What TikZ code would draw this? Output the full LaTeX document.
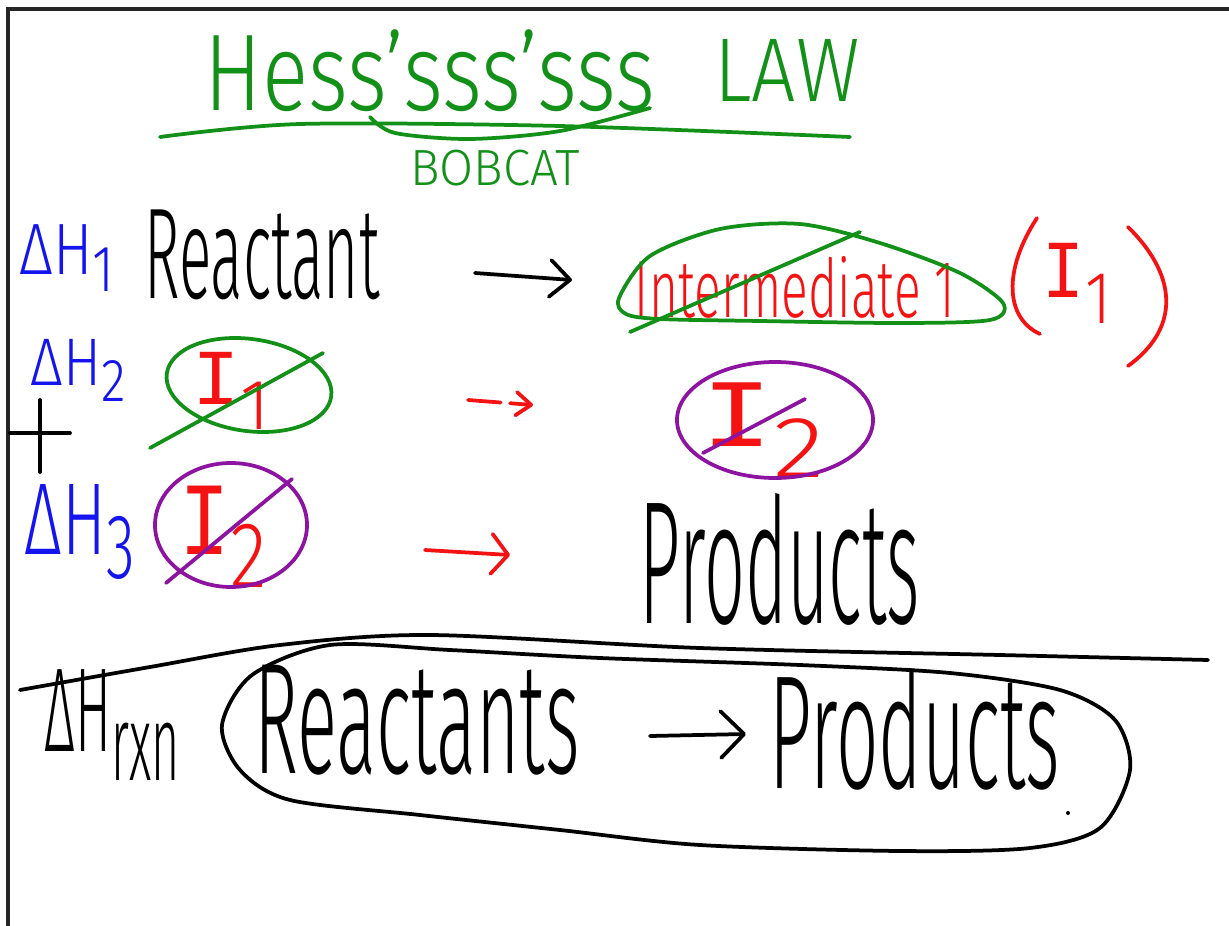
\documentclass[tikz,border=0pt]{standalone}
\usepackage{fontspec}
\IfFontExistsTF{Fira Sans Light}
  {\setmainfont{Fira Sans Light}}
  {\setmainfont{Fira Sans}}
\newfontfamily\monoI{Liberation Mono}
\usetikzlibrary{arrows.meta}
\definecolor{pengreen} {HTML}{129018}
\definecolor{penred}   {HTML}{F41212}
\definecolor{penblue}  {HTML}{1414EE}
\definecolor{penpurple}{HTML}{8C14A0}

% one pixel of the board
\newlength{\px}\setlength{\px}{0.3mm}
% text squeezed into a w x h box (in board pixels)
\newcommand{\ink}[3]{\resizebox*{#1\px}{#2\px}{#3}}
\newcommand{\enth}[1]{ΔH\raisebox{-0.45ex}{\small #1}}
\newcommand{\inter}[1]{{\monoI I}\raisebox{-0.6ex}{\small #1}}

\begin{document}
\begin{tikzpicture}[x=0.3mm,y=-0.3mm,
  pen/.style={line width=3.2pt,line cap=round,line join=round},
  txt/.style={inner sep=0pt,anchor=center},
  headtip/.style 2 args={-{Straight Barb[length=#1,width=#2,round]}}]
\useasboundingbox (0,0) rectangle (1229,926);
\fill[white] (0,0) rectangle (1229,926);
\draw[line width=3pt,black!85] (1240,9) -- (8,9) -- (8,940);

% title
\node[txt,text=pengreen] (title) at (430,71) {\ink{450}{82}{Hess'sss'sss}};
\node[txt,text=pengreen] (law) at (787,70) {\ink{145}{62}{LAW}};
\draw[pen,pengreen] plot[smooth] coordinates {(160,137) (300,124) (560,126) (850,137)};
\draw[pen,pengreen] plot[smooth] coordinates {(370,117) (395,133) (470,139) (560,131) (650,108)};
\node[txt,text=pengreen] (bobcat) at (495,168) {\ink{170}{36}{BOBCAT}};

% step 1
\node[txt,text=penblue] (dh1) at (67,258) {\ink{95}{67}{\enth{1}}};
\node[txt] (reactant) at (262,255) {\ink{235}{90}{Reactant}};
\coordinate (r1a) at (475,273);
\coordinate (r1b) at (572,280);
\draw[pen,headtip={6mm}{11mm}] (r1a) -- (r1b);
\node[txt,text=penred] (int1) at (795,287) {\ink{320}{62}{Intermediate 1}};
\draw[pen,pengreen] plot[smooth cycle] coordinates {(619,298) (650,256) (720,229) (800,224)
  (880,243) (960,273) (1003,303) (990,320) (900,323) (760,321) (660,319) (626,314)};
\draw[pen,pengreen] (630,332) -- (860,232);
\node[txt,text=penred] (i1c) at (1077,283) {\ink{68}{80}{\inter{1}}};
\draw[pen,penred] (1037,218) .. controls (1003,270) and (1005,318) .. (1040,334);
\draw[pen,penred] (1128,227) .. controls (1180,278) and (1178,330) .. (1128,366);

% step 2
\node[txt,text=penblue] (dh2) at (78,370) {\ink{95}{62}{\enth{2}}};
\draw[pen] (10,433) -- (70,433);
\draw[pen] (40,400) -- (40,472);
\node[txt,text=penred] (i1a) at (231,391) {\ink{77}{77}{\inter{1}}};
\draw[pen,pengreen,rotate around={-8:(249,385)}] (249,385) ellipse [x radius=83,y radius=46];
\draw[pen,pengreen] (150,448) -- (323,353);
\coordinate (r2a) at (468,400);
\coordinate (r2b) at (533,405);
\draw[pen,penred,dash pattern=on 28pt off 8pt,headtip={4.5mm}{7mm}] (r2a) -- (r2b);
\node[txt,text=penred] (i2a) at (763,430) {\ink{123}{94}{\inter{2}}};
\draw[pen,penpurple] (775,420) ellipse [x radius=98,y radius=58];
\draw[pen,penpurple] (703,453) -- (805,399);

% step 3
\node[txt,text=penblue] (dh3) at (80,532) {\ink{110}{95}{\enth{3}}};
\node[txt,text=penred] (i2b) at (223,537) {\ink{87}{101}{\inter{2}}};
\draw[pen,penpurple] (231,525) ellipse [x radius=76,y radius=62];
\draw[pen,penpurple] (166,583) -- (292,479);
\coordinate (r3a) at (425,550);
\coordinate (r3b) at (510,555);
\draw[pen,penred,headtip={5mm}{12mm}] (r3a) -- (r3b);
\node[txt] (prod) at (780,559) {\ink{280}{132}{Products}};

% sum
\draw[pen] plot[smooth] coordinates {(20,690) (150,667) (280,645) (430,635) (700,648)
  (1000,655) (1208,660)};
\draw[pen] plot[smooth cycle] coordinates {(330,645) (252,675) (222,725) (240,770)
  (290,800) (420,815) (560,830) (700,845) (900,851) (1030,848) (1100,828) (1130,770)
  (1115,720) (1060,690) (950,673) (800,665) (600,658) (450,650)};
\node[txt] (dhrxn) at (112,725) {\ink{135}{110}{\enth{rxn}}};
\node[txt] (reactants) at (417,720) {\ink{325}{110}{Reactants}};
\coordinate (rsa) at (650,736);
\coordinate (rsb) at (746,734);
\draw[pen,headtip={7mm}{14mm}] (rsa) -- (rsb);
\node[txt] (products) at (915,729) {\ink{290}{122}{Products}};
\fill (1068,813) circle [radius=2];
\end{tikzpicture}
\end{document}
